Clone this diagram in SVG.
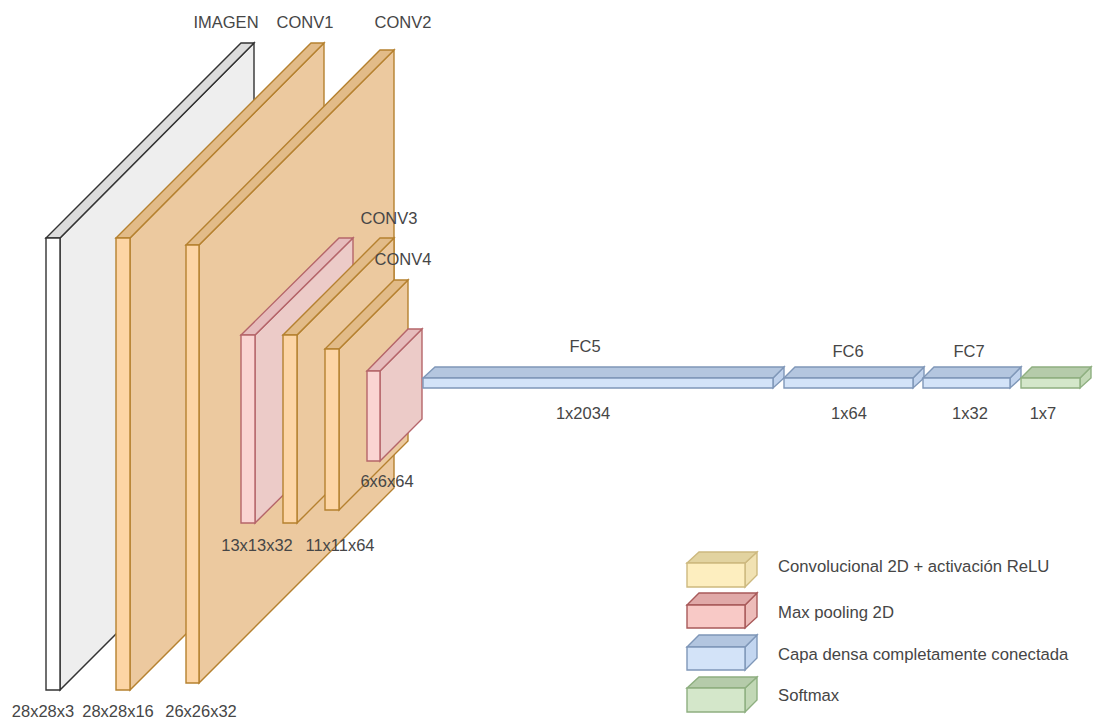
<svg xmlns="http://www.w3.org/2000/svg" width="1093" height="720" viewBox="0 0 1093 720">
<style>
text{font-family:"Liberation Sans",Arial,sans-serif;font-size:16.5px;fill:#464646;text-anchor:middle}
.leg{text-anchor:start;font-size:16.7px}
path{stroke-linejoin:miter;stroke-width:1.4}
.w .f{fill:#fff;stroke:#333}.w .t{fill:#dcdcdc;stroke:#333}.w .s{fill:#eeeeee;stroke:#333}
.o .f{fill:#fdd5a5;stroke:#b5812f}.o .t{fill:#e2bb88;stroke:#b5812f}.o .s{fill:#ecc99f;stroke:#b5812f}
.r .f{fill:#fad4d2;stroke:#b5656a}.r .t{fill:#e6bcbc;stroke:#b5656a}.r .s{fill:#eccbc8;stroke:#b5656a}
.b .f{fill:#d3e3f8;stroke:#7f97b8}.b .t{fill:#b4c6df;stroke:#7f97b8}.b .s{fill:#c0d2ec;stroke:#7f97b8}
.g .f{fill:#d4e7ca;stroke:#8eaf80}.g .t{fill:#b5cbaa;stroke:#8eaf80}.g .s{fill:#c2d8b6;stroke:#8eaf80}
.y .f{fill:#fdeebf;stroke:#cdb97f}.y .t{fill:#e2d3a0;stroke:#cdb97f}.y .s{fill:#f1e2b3;stroke:#cdb97f}
.p .f{fill:#f8c9c6;stroke:#a85a5a}.p .t{fill:#e0a9a8;stroke:#a85a5a}.p .s{fill:#edbcb9;stroke:#a85a5a}
.l .f{fill:#d3e3f8;stroke:#7f97b8}.l .t{fill:#b2c5df;stroke:#7f97b8}.l .s{fill:#c3d6f0;stroke:#7f97b8}
</style>
<g id="connectors"></g>
<g id="imagen" class="w">
<path class="s" d="M60 238L254 43V496L60 690Z"/><path class="t" d="M46 238L241 43H254L60 238Z"/><path class="f" d="M46 238H60V690H46Z"/>
<text x="226" y="28">IMAGEN</text><text x="43" y="717">28x28x3</text>
</g>
<g id="conv1" class="o">
<path class="s" d="M130 238L324 43V496L130 690Z"/><path class="t" d="M116 238L311 43H324L130 238Z"/><path class="f" d="M116 238H130V690H116Z"/>
<text x="305" y="28">CONV1</text><text x="118" y="717">28x28x16</text>
</g>
<g id="conv2" class="o">
<path class="s" d="M199 245L394 50V488L199 683Z"/><path class="t" d="M186 245L380 50H394L199 245Z"/><path class="f" d="M186 245H199V683H186Z"/>
<text x="403" y="28">CONV2</text><text x="201" y="717">26x26x32</text>
</g>
<g id="pool1" class="r">
<path class="s" d="M255 335L353 238V426L255 523Z"/><path class="t" d="M241 335L339 238H353L255 335Z"/><path class="f" d="M241 335H255V523H241Z"/>
<text x="257" y="551">13x13x32</text>
</g>
<g id="conv3" class="o">
<path class="s" d="M297 335L394 238V426L297 523Z"/><path class="t" d="M283 335L380 238H394L297 335Z"/><path class="f" d="M283 335H297V523H283Z"/>
<text x="389" y="224">CONV3</text>
</g>
<g id="conv4" class="o">
<path class="s" d="M339 349L408 280V441L339 510Z"/><path class="t" d="M325 349L394 280H408L339 349Z"/><path class="f" d="M325 349H339V510H325Z"/>
<text x="403" y="265">CONV4</text><text x="340" y="551">11x11x64</text>
</g>
<g id="pool2" class="r">
<path class="s" d="M380 371L422 329V419L380 461Z"/><path class="t" d="M367 371L408 329H422L380 371Z"/><path class="f" d="M367 371H380V461H367Z"/>
<text x="387" y="487">6x6x64</text>
</g>
<g id="fc5" class="b">
<path class="s" d="M773 378L784 367V378L773 388Z"/><path class="t" d="M423 378L435 367H784L773 378Z"/><path class="f" d="M423 378H773V388H423Z"/>
<text x="585" y="352">FC5</text><text x="583" y="419">1x2034</text>
</g>
<g id="fc6" class="b">
<path class="s" d="M913 378L924 367V378L913 388Z"/><path class="t" d="M784 378L795 367H924L913 378Z"/><path class="f" d="M784 378H913V388H784Z"/>
<text x="848" y="357">FC6</text><text x="849" y="419">1x64</text>
</g>
<g id="fc7" class="b">
<path class="s" d="M1010 378L1021 367V378L1010 388Z"/><path class="t" d="M923 378L934 367H1021L1010 378Z"/><path class="f" d="M923 378H1010V388H923Z"/>
<text x="969" y="357">FC7</text><text x="970" y="419">1x32</text>
</g>
<g id="softmax" class="g">
<path class="s" d="M1080 378L1091 367V378L1080 388Z"/><path class="t" d="M1021 378L1032 367H1091L1080 378Z"/><path class="f" d="M1021 378H1080V388H1021Z"/>
<text x="1043" y="419">1x7</text>
</g>
<g id="legend-conv" class="y">
<path class="s" d="M745 563L757 552V575L745 587Z"/><path class="t" d="M687 563L699 552H757L745 563Z"/><path class="f" d="M687 563H745V587H687Z"/>
<text class="leg" x="778" y="572">Convolucional 2D + activación ReLU</text>
</g>
<g id="legend-pool" class="p">
<path class="s" d="M745 605L757 593V617L745 628Z"/><path class="t" d="M687 605L699 593H757L745 605Z"/><path class="f" d="M687 605H745V628H687Z"/>
<text class="leg" x="778" y="618">Max pooling 2D</text>
</g>
<g id="legend-dense" class="l">
<path class="s" d="M745 647L757 635V658L745 670Z"/><path class="t" d="M687 647L699 635H757L745 647Z"/><path class="f" d="M687 647H745V670H687Z"/>
<text class="leg" x="778" y="660">Capa densa completamente conectada</text>
</g>
<g id="legend-softmax" class="g">
<path class="s" d="M745 688L757 677V700L745 712Z"/><path class="t" d="M687 688L699 677H757L745 688Z"/><path class="f" d="M687 688H745V712H687Z"/>
<text class="leg" x="778" y="701">Softmax</text>
</g>
</svg>
